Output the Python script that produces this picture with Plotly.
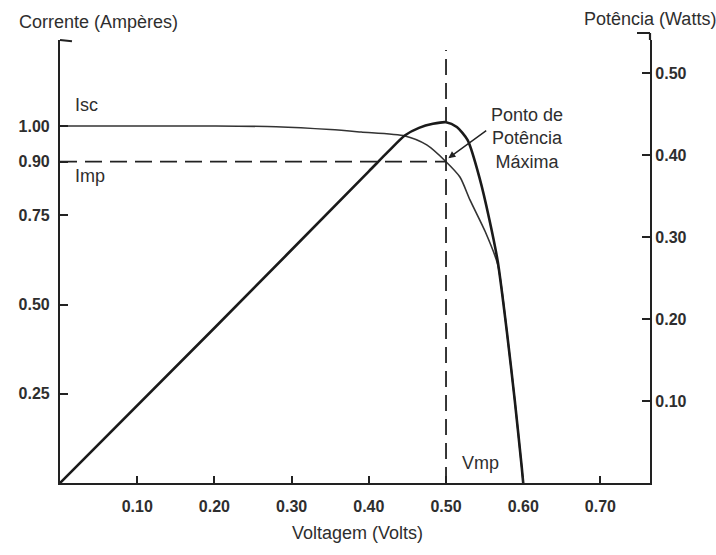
import plotly.graph_objects as go

# Current-voltage curve of the solar cell (left axis, amperes)
iv_voltage = [0.00, 0.10, 0.20, 0.28, 0.35, 0.39, 0.447, 0.475, 0.50, 0.518, 0.531, 0.551, 0.567, 0.579, 0.589, 0.598, 0.600]
iv_current = [1.00, 1.00, 1.00, 0.998, 0.99, 0.983, 0.972, 0.947, 0.90, 0.857, 0.793, 0.703, 0.612, 0.420, 0.232, 0.045, 0.00]

# Power-voltage curve (right axis, watts)
pv_voltage = [0.00, 0.20, 0.40, 0.425, 0.447, 0.465, 0.483, 0.500, 0.514, 0.528, 0.544, 0.556, 0.567, 0.579, 0.589, 0.598, 0.600]
pv_power = [0.00, 0.189, 0.380, 0.404, 0.424, 0.433, 0.438, 0.440, 0.434, 0.418, 0.370, 0.322, 0.270, 0.183, 0.101, 0.020, 0.00]

# Operating point at maximum power
v_mp = 0.50
i_mp = 0.90

x_ticks = [0.10, 0.20, 0.30, 0.40, 0.50, 0.60, 0.70]
x_ticktext = ["0.10", "0.20", "0.30", "0.40", "0.50", "0.60", "0.70"]
i_ticks = [0.25, 0.50, 0.75, 0.90, 1.00]
i_ticktext = ["0.25", "0.50", "0.75", "0.90", "1.00"]
p_ticks = [0.10, 0.20, 0.30, 0.40, 0.50]
p_ticktext = ["0.10", "0.20", "0.30", "0.40", "0.50"]

INK = "#222222"
TXT = "#2e2e2e"
FONT = "Liberation Sans, Arial, sans-serif"

fig = go.Figure()

fig.add_trace(go.Scatter(
    x=iv_voltage, y=iv_current, mode="lines", yaxis="y",
    line=dict(color="#333333", width=1.6, shape="spline", smoothing=0.7),
    hoverinfo="skip", showlegend=False,
))
fig.add_trace(go.Scatter(
    x=pv_voltage, y=pv_power, mode="lines", yaxis="y2",
    line=dict(color="#1a1a1a", width=2.6, shape="spline", smoothing=0.7),
    hoverinfo="skip", showlegend=False,
))

def axis_style(ticklen=8, standoff=None):
    d = dict(
        showgrid=False, zeroline=False, showline=True, linecolor=INK, linewidth=2.2,
        ticks="inside", ticklen=ticklen, tickwidth=1.5, tickcolor=INK,
        tickfont=dict(family=FONT, size=16, color=TXT, weight="bold"),
        fixedrange=True,
    )
    if standoff is not None:
        d["ticklabelstandoff"] = standoff
    return d

fig.update_layout(
    width=716, height=555,
    margin=dict(l=60, r=66, t=40, b=72),
    paper_bgcolor="white", plot_bgcolor="white",
    xaxis=dict(range=[0, 0.7642], tickvals=x_ticks, ticktext=x_ticktext, **axis_style(7, 8)),
    yaxis=dict(range=[0, 1.2409], tickvals=i_ticks, ticktext=i_ticktext, **axis_style(8, 5)),
    yaxis2=dict(range=[0, 0.5402], tickvals=p_ticks, ticktext=p_ticktext,
                overlaying="y", side="right", anchor="x", **axis_style(8)),
)

# Reference lines through the maximum power point
fig.add_shape(type="line", xref="x", yref="y", x0=0, x1=v_mp, y0=i_mp, y1=i_mp,
              line=dict(color=INK, width=1.8, dash="17px,8px"))
fig.add_shape(type="line", xref="x", yref="y", x0=v_mp, x1=v_mp, y0=0, y1=1.213,
              line=dict(color=INK, width=1.8, dash="16px,8px"))

# Axis end caps
fig.add_shape(type="line", xref="paper", yref="paper", x0=0, x1=12 / 590, y0=1, y1=0.997,
              line=dict(color=INK, width=2))
fig.add_shape(type="line", xref="paper", yref="paper", x0=1, x1=1, y0=1, y1=1 + 7 / 443,
              line=dict(color=INK, width=2.2))
fig.add_shape(type="line", xref="paper", yref="paper", x0=1 - 13 / 590, x1=1, y0=1 + 7 / 443, y1=1 + 7 / 443,
              line=dict(color=INK, width=2))

def label(text, x, y, xref="paper", yref="paper", size=18, xanchor="center", yanchor="middle", **kw):
    fig.add_annotation(text=text, x=x, y=y, xref=xref, yref=yref, showarrow=False,
                       xanchor=xanchor, yanchor=yanchor,
                       font=dict(family=FONT, size=size, color=TXT), **kw)

# Axis titles
label("Corrente (Ampères)", -0.073, 1.0 + 18 / 443, xanchor="left")
label("Potência (Watts)", 1.0, 1.0 + 21 / 443, xanchor="center")
label("Voltagem (Volts)", 0.505, -50 / 443, xanchor="center")

# Curve labels
label("Isc", 0.017, 1.06, xref="x", yref="y", xanchor="left")
label("Imp", 0.017, 0.86, xref="x", yref="y", xanchor="left")
label("Vmp", 0.518, 0.055, xref="x", yref="y", xanchor="left")
label("Ponto de<br>Potência<br>Máxima", 0.605, 0.966, xref="x", yref="y", xanchor="center")

# Pointer to the maximum power point
fig.add_annotation(x=v_mp + 0.003, y=i_mp + 0.01, xref="x", yref="y",
                   ax=0.554, ay=0.99, axref="x", ayref="y",
                   showarrow=True, arrowhead=2, arrowsize=1, arrowwidth=1.4,
                   arrowcolor=INK, text="")

fig.write_html("out.html")
